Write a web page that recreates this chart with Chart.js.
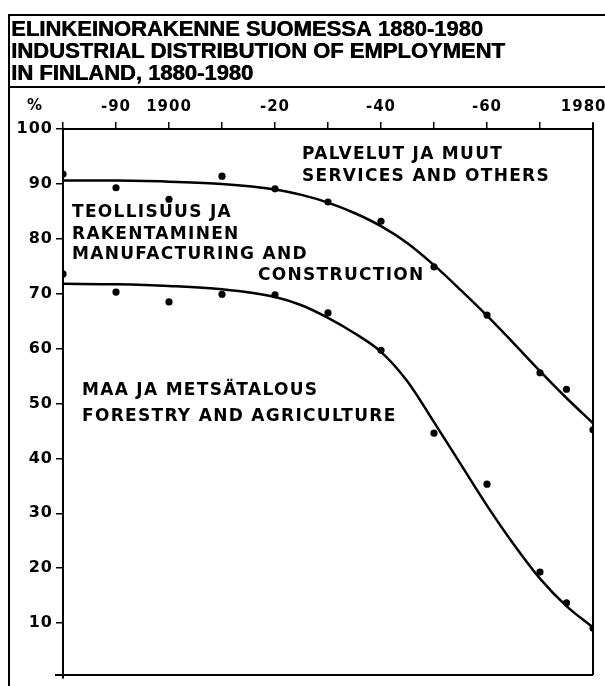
<!DOCTYPE html>
<html><head><meta charset="utf-8">
<script src="https://cdn.jsdelivr.net/npm/chart.js@4/dist/chart.umd.min.js"></script>
<style>
html,body{margin:0;padding:0;background:#fff;overflow:hidden;width:605px;height:686px}
canvas{position:absolute;left:0;top:0}
</style>
</head><body>
<canvas id="c" width="640" height="686"></canvas>
<script>
// ---- data ----
const titleLines = ['ELINKEINORAKENNE SUOMESSA 1880-1980', 'INDUSTRIAL DISTRIBUTION OF EMPLOYMENT', 'IN FINLAND, 1880-1980'];
const pointYears  = [1880, 1890, 1900, 1910, 1920, 1930, 1940, 1950, 1960, 1970, 1975, 1980];
const upperPoints = [91.8, 89.3, 87.2, 91.4, 89.1, 86.7, 83.2, 74.9, 66.1, 55.6, 52.6, 45.2];
const lowerPoints = [73.6, 70.3, 68.5, 69.9, 69.8, 66.5, 59.7, 44.6, 35.3, 19.3, 13.7, 9.1];
const curveYears  = [1880, 1890, 1900, 1910, 1920, 1925, 1930, 1935, 1940, 1945, 1950, 1955, 1960, 1965, 1970, 1975, 1980];
const upperCurve  = [90.6, 90.6, 90.4, 90.0, 89.0, 88.0, 86.6, 84.7, 82.3, 79.2, 75.2, 70.7, 66.0, 61.0, 55.9, 51.0, 46.4];
const lowerCurve  = [71.8, 71.7, 71.4, 70.8, 69.4, 67.9, 65.6, 62.8, 59.4, 54.0, 46.6, 39.0, 31.4, 24.4, 18.1, 13.1, 9.2];
const xTickYears  = [1890, 1900, 1920, 1940, 1960, 1980];
const xTickLabels = ['-90', '1900', '-20', '-40', '-60', '1980'];
const yAxisUnit = '%';
const annotationTexts = ['PALVELUT JA MUUT', 'SERVICES AND OTHERS', 'TEOLLISUUS JA', 'RAKENTAMINEN',
  'MANUFACTURING AND', 'CONSTRUCTION', 'MAA JA METSÄTALOUS', 'FORESTRY AND AGRICULTURE'];

// ---- layout (pixels) ----
const annotationPos = [[302,155],[302,177],[72,213],[72,235],[72,255],[258,276],[82,391],[82,417]];

const toXY = (xs, ys) => xs.map((x, i) => ({x: x, y: ys[i]}));

const framePlugin = {
  id: 'frame',
  beforeDraw(chart) {
    const ctx = chart.ctx;
    ctx.save();
    ctx.fillStyle = '#fff';
    ctx.fillRect(0, 0, chart.width, chart.height);
    ctx.restore();
    ctx.letterSpacing = '1px';
  },
  afterDraw(chart) {
    const ctx = chart.ctx;
    const a = chart.chartArea;
    ctx.save();
    ctx.strokeStyle = '#000';
    ctx.fillStyle = '#000';
    // outer frame
    ctx.lineWidth = 2;
    ctx.beginPath();
    ctx.moveTo(9, 686); ctx.lineTo(9, 15); ctx.lineTo(640, 15);
    ctx.moveTo(9, 87); ctx.lineTo(640, 87);
    ctx.stroke();
    // plot right and bottom lines
    ctx.beginPath();
    ctx.moveTo(a.right, a.top - 6); ctx.lineTo(a.right, a.bottom - 3);
    ctx.moveTo(a.left - 8, a.bottom - 3); ctx.lineTo(a.right, a.bottom - 3);
    ctx.stroke();
    // title
    ctx.letterSpacing = '0px';
    ctx.font = 'bold 22px "Liberation Sans", Arial, sans-serif';
    ctx.textBaseline = 'alphabetic';
    ctx.textAlign = 'left';
    titleLines.forEach((t, i) => {
      ctx.fillText(t, 11, 36 + i * 22);
      ctx.fillText(t, 11.6, 36 + i * 22);
    });
    // % unit
    ctx.letterSpacing = '1px';
    ctx.font = 'bold 15px "DejaVu Sans", sans-serif';
    ctx.textBaseline = 'middle';
    ctx.textAlign = 'center';
    ctx.fillText(yAxisUnit, 35, 106);
    // annotations
    ctx.letterSpacing = '1.3px';
    ctx.font = 'bold 17px "DejaVu Sans", sans-serif';
    ctx.textAlign = 'left';
    annotationTexts.forEach((t, i) => ctx.fillText(t, annotationPos[i][0], annotationPos[i][1]));
    ctx.restore();
  }
};

const lineStyle = {showLine: true, pointRadius: 0, borderColor: '#000', borderWidth: 2.5,
  cubicInterpolationMode: 'monotone', fill: false};
const dotStyle = {showLine: false, pointRadius: 3.6, pointBackgroundColor: '#000', pointBorderWidth: 0,
  borderColor: '#000', backgroundColor: '#000'};

new Chart(document.getElementById('c'), {
  type: 'scatter',
  data: {
    datasets: [
      Object.assign({label: 'upper curve', data: toXY(curveYears, upperCurve)}, lineStyle),
      Object.assign({label: 'lower curve', data: toXY(curveYears, lowerCurve)}, lineStyle),
      Object.assign({label: 'upper points', data: toXY(pointYears, upperPoints)}, dotStyle),
      Object.assign({label: 'lower points', data: toXY(pointYears, lowerPoints)}, dotStyle)
    ]
  },
  options: {
    responsive: false,
    animation: false,
    events: [],
    layout: {padding: {left: 0, top: 90, right: 47, bottom: 8}},
    plugins: {legend: {display: false}, tooltip: {enabled: false}},
    scales: {
      x: {
        type: 'linear', position: 'top', min: 1880, max: 1980,
        afterFit(s) { s.height = 39; },
        ticks: {
          stepSize: 10, autoSkip: false, maxRotation: 0, padding: 6, color: '#000',
          font: {family: '"DejaVu Sans", sans-serif', weight: 'bold', size: 15},
          callback: v => {
            const i = xTickYears.indexOf(v);
            if (i < 0) return '';
            // last label sits left of its tick in the reference (edge of the page)
            return i === xTickLabels.length - 1 ? xTickLabels[i] + '   ' : xTickLabels[i];
          }
        },
        grid: {drawOnChartArea: false, tickLength: 7, color: '#000', lineWidth: 1.5},
        border: {color: '#000', width: 2}
      },
      y: {
        min: 0, max: 100,
        afterFit(s) { s.width = 63; s.paddingTop = 0; s.paddingBottom = 0; },
        afterBuildTicks(s) { s.ticks = s.ticks.filter(t => t.value > 0); },
        ticks: {
          stepSize: 10, padding: 3, color: '#000',
          font: {family: '"DejaVu Sans", sans-serif', weight: 'bold', size: 16}
        },
        grid: {drawOnChartArea: false, tickLength: 7, color: '#000', lineWidth: 1.5},
        border: {color: '#000', width: 2}
      }
    }
  },
  plugins: [framePlugin]
});
</script>
</body></html>
